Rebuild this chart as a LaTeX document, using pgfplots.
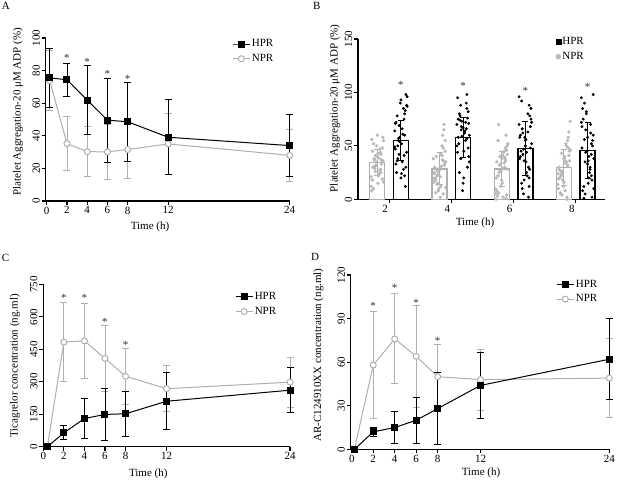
\documentclass[border=0pt]{standalone}
\usepackage{fontspec}
\setmainfont{Liberation Serif}
\usepackage{pgfplots}
\usepackage{pgfplotstable}
\pgfplotsset{compat=1.18}
\definecolor{npr}{RGB}{175,175,175}
\definecolor{nprpt}{RGB}{185,185,185}
\newcommand\fs{\fontsize{11}{13}\selectfont}

\pgfplotsset{gp/.style={
  scale only axis, axis lines=left, axis line style={line width=1.3pt,-},
  tick align=outside, major tick length=4pt, tick style={line width=1.1pt,black},
  tick label style={font=\fs}, label style={font=\fs},
  /pgf/number format/assume math mode=true,
  yticklabel style={rotate=90, anchor=south, inner sep=1.5pt},
  xticklabel style={inner sep=1.5pt},
  clip=false,
  legend style={draw=none, fill=none, font=\fs, row sep=3pt, inner sep=0pt, nodes={inner sep=1.5pt}},
  legend cell align=left,
},
ebH/.style={error bars/y dir=both, error bars/y explicit, error bars/error bar style={line width=0.9pt, draw=black, solid}, error bars/error mark options={rotate=90, draw=black, line width=0.9pt, mark size=3.5pt}},
ebN/.style={error bars/y dir=both, error bars/y explicit, error bars/error bar style={line width=0.9pt, draw=npr, solid}, error bars/error mark options={rotate=90, draw=npr, line width=0.9pt, mark size=3.5pt}},
hpr/.style={black, line width=1pt, mark=square*, mark size=3pt, mark options={solid}},
nprs/.style={npr, line width=1pt, mark=*, mark size=3pt, mark options={solid, fill=white, draw=npr}},
star/.style={draw=none, mark=none, forget plot, nodes near coords={*}, every node near coord/.append style={anchor=center, font=\fs, inner sep=0pt, yshift=-1.5pt, text=black!80}},
}

% Panel A
\pgfplotstableread{
t m e
0.3 75.5 18
2 74.4 10
4 61.9 21.3
6 49.6 25.7
8 48.6 24.4
12 39.1 23
24 34 19
}\aH
\pgfplotstableread{
t m e
0.3 73.8 18.5
2 35.2 16.6
4 30.3 15.5
6 30.1 17
8 31.6 18
12 35 18.5
24 28 16
}\aN
% Panel C
\pgfplotstableread{
t m e
0.4 0 0
2 64 32
4 130 93
6 149 118
8 152 104
12 210 132
24 261 104
}\cH
\pgfplotstableread{
t m e
0.4 0 0
2 483 183
4 489 172
6 408 152
8 325 131
12 268 105
24 298 115
}\cN
% Panel D
\pgfplotstableread{
t m e
0.25 0 0
2 12 3
4 15 11
6 20 16
8 28 25
12 44 23
24 62 28
}\dH
\pgfplotstableread{
t m e
0.25 0 0
2 58 37
4 76 31
6 64 35
8 50 22
12 48 21
24 49 27
}\dN
% Panel B: individual values (jitter j within bar)
\pgfplotstableread{
j n2 h2 n4 h4 n6 h6 n8 h8
-0.08 45 72 30 75 35 60 30 85
0.02 22 35 12 62 2 25 8 20
0.09 58 88 45 40 42 85 45 60
-0.04 31 55 22 88 25 42 22 5
0.06 37 22 5 57 48 12 55 42
-0.1 12 64 38 70 10 70 14 95
0.0 40 93 27 15 38 55 38 33
0.05 28 41 60 66 30 30 2 70
-0.06 52 78 18 80 55 92 27 12
0.08 19 30 33 48 4 48 63 55
-0.02 35 58 8 73 33 18 18 80
0.04 47 85 41 55 45 63 35 28
-0.09 8 47 25 95 20 38 10 48
0.07 33 12 70 30 1 78 48 2
-0.03 26 69 15 68 40 5 25 65
0.1 55 96 35 60 28 52 73 38
-0.05 38 38 28 78 70 66 5 90
0.01 15 52 2 45 15 35 40 15
0.06 42 80 48 85 36 88 32 52
-0.07 30 25 20 52 3 45 20 75
0.03 24 61 31 64 44 22 52 25
-0.01 50 90 10 8 26 58 12 45
0.09 36 44 55 71 50 75 36 98
-0.08 18 33 24 58 8 40 28 8
0.05 44 75 37 90 39 2 0 62
-0.04 29 57 14 38 32 62 43 35
0.0 60 20 29 67 18 50 16 58
0.07 34 83 65 76 60 28 58 18
-0.1 21 49 19 50 5 96 24 72
0.02 39 66 42 62 41 44 34 40
-0.06 10 36 6 25 22 15 6 1
0.08 48 98 32 82 46 68 41 50
-0.02 32 54 23 59 12 36 26 82
0.04 27 28 50 72 34 80 50 30
-0.09 56 71 16 44 0 58 19 68
0.06 25 60 36 98 37 20 31 22
-0.03 41 42 26 65 27 47 4 44
0.1 16 87 11 35 52 72 46 10
-0.05 37 50 40 74 6 10 23 56
0.01 43 24 21 20 29 56 37 36
}\bpts

\begin{document}
\begin{tikzpicture}[x=1pt,y=1pt]
\useasboundingbox (0,0) rectangle (617,481);
\node[anchor=north west, inner sep=0pt, font=\fs] at (1.7,478.5) {A};
\node[anchor=north west, inner sep=0pt, font=\fs] at (313,478.5) {B};
\node[anchor=north west, inner sep=0pt, font=\fs] at (1.7,226.5) {C};
\node[anchor=north west, inner sep=0pt, font=\fs] at (311,228) {D};

% ---------- A ----------
\begin{axis}[gp, at={(45.7pt,280pt)}, anchor=south west, width=244pt, height=163pt,
  xmin=-0.1, xmax=24, ymin=0, ymax=100,
  xtick={0,2,4,6,8,12,24}, ytick={0,20,40,60,80,100},
  xlabel={Time (h)}, ylabel={Platelet Aggregation-20 μM ADP (\%)},
  xlabel style={at={(axis description cs:0.4275,0)}, anchor=center, yshift=-26pt},
  ylabel style={at={(axis description cs:-0.1135,0.546)}, anchor=center},
  legend style={at={(0.764,0.918)}, anchor=west}]
\addplot[nprs, forget plot, ebN] table[x=t, y=m, y error=e] {\aN};
\addplot[hpr, forget plot, ebH] table[x=t, y=m, y error=e] {\aH};
\addplot[star] coordinates {(2,88.7) (4,86.3) (6,78.9) (8,75.8)};
\addlegendimage{hpr}\addlegendentry{HPR}
\addlegendimage{nprs}\addlegendentry{NPR}
\end{axis}

% ---------- B ----------
\begin{axis}[gp, at={(358pt,281.7pt)}, anchor=south west, width=247pt, height=160.3pt,
  xmin=0.5, xmax=4.47, ymin=0, ymax=150,
  xtick={1,2,3,4}, xticklabels={2,4,6,8}, xticklabel style={xshift=-4pt},
  ytick={0,50,100,150},
  xlabel={Time (h)}, ylabel={Platelet Aggregation-20 μM ADP (\%)},
  xlabel style={at={(axis description cs:0.474,0)}, anchor=center, yshift=-24pt},
  ylabel style={at={(axis description cs:-0.093,0.568)}, anchor=center},
  legend style={at={(0.80,0.936)}, anchor=west}]
\addplot[ybar, bar width=0.24, bar shift=0pt, draw=npr, line width=1.2pt, fill=white, forget plot]
  coordinates {(0.81,34.3) (1.81,28.4) (2.81,28.4) (3.81,29.6)};
\addplot[ybar, bar width=0.24, bar shift=0pt, draw=black, line width=1.5pt, fill=white, forget plot]
  coordinates {(1.19,55) (2.19,57.7) (3.19,47.4) (4.19,45.5)};
\addplot[only marks, mark=*, mark size=1.5pt, nprpt, forget plot] table[x expr=\thisrow{j}+0.81, y=n2] {\bpts};
\addplot[only marks, mark=*, mark size=1.5pt, nprpt, forget plot] table[x expr=\thisrow{j}+1.81, y=n4] {\bpts};
\addplot[only marks, mark=*, mark size=1.5pt, nprpt, forget plot] table[x expr=\thisrow{j}+2.81, y=n6] {\bpts};
\addplot[only marks, mark=*, mark size=1.5pt, nprpt, forget plot] table[x expr=\thisrow{j}+3.81, y=n8] {\bpts};
\addplot[only marks, mark=*, mark size=1.25pt, black, forget plot] table[x expr=\thisrow{j}+1.19, y=h2] {\bpts};
\addplot[only marks, mark=*, mark size=1.25pt, black, forget plot] table[x expr=\thisrow{j}+2.19, y=h4] {\bpts};
\addplot[only marks, mark=*, mark size=1.25pt, black, forget plot] table[x expr=\thisrow{j}+3.19, y=h6] {\bpts};
\addplot[only marks, mark=*, mark size=1.25pt, black, forget plot] table[x expr=\thisrow{j}+4.19, y=h8] {\bpts};
\addplot[draw=none, mark=none, forget plot, error bars/y dir=both, error bars/y explicit,
  error bars/error bar style={line width=1pt, draw=npr}, error bars/error mark options={rotate=90, draw=npr, line width=1pt, mark size=3pt}]
  coordinates {(0.81,34.3) +- (0,12) (1.81,28.4) +- (0,15) (2.81,28.4) +- (0,16) (3.81,29.6) +- (0,17)};
\addplot[draw=none, mark=none, forget plot, error bars/y dir=both, error bars/y explicit,
  error bars/error bar style={line width=1pt, draw=black}, error bars/error mark options={rotate=90, draw=black, line width=1pt, mark size=3pt}]
  coordinates {(1.19,55) +- (0,19) (2.19,57.7) +- (0,19) (3.19,47.4) +- (0,25) (4.19,45.5) +- (0,26)};
\addplot[star] coordinates {(1.19,108.5) (2.19,107.9) (3.19,103.2) (4.19,106.3)};
\addlegendimage{only marks, mark=square*, mark size=2.5pt, black}\addlegendentry{HPR}
\addlegendimage{only marks, mark=*, mark size=2.5pt, nprpt}\addlegendentry{NPR}
\end{axis}

% ---------- C ----------
\begin{axis}[gp, at={(43.3pt,34.3pt)}, anchor=south west, width=246.7pt, height=162.4pt,
  xmin=0, xmax=24, ymin=0, ymax=750,
  xtick={0,2,4,6,8,12,24}, ytick={0,150,300,450,600,750},
  xlabel={Time (h)}, ylabel={Ticagrelor concentration (ng.ml)},
  xlabel style={at={(axis description cs:0.4256,0)}, anchor=center, yshift=-27.3pt},
  ylabel style={at={(axis description cs:-0.1147,0.498)}, anchor=center},
  legend style={at={(0.777,0.877)}, anchor=west}]
\addplot[nprs, forget plot, ebN] table[x=t, y=m, y error=e] {\cN};
\addplot[hpr, forget plot, ebH] table[x=t, y=m, y error=e] {\cH};
\addplot[star] coordinates {(2,693) (4,693) (6,581) (8,478)};
\addlegendimage{hpr}\addlegendentry{HPR}
\addlegendimage{nprs}\addlegendentry{NPR}
\end{axis}

% ---------- D ----------
\begin{axis}[gp, at={(350.7pt,31.7pt)}, anchor=south west, width=258.6pt, height=174.3pt,
  xmin=-0.1, xmax=24, ymin=0, ymax=120,
  xtick={0,2,4,6,8,12,24}, ytick={0,30,60,90,120},
  xlabel={Time (h)}, ylabel={AR-C124910XX concentration (ng.ml)},
  xlabel style={at={(axis description cs:0.504,0)}, anchor=center, yshift=-24pt},
  ylabel style={at={(axis description cs:-0.125,0.541)}, anchor=center},
  legend style={at={(0.794,0.904)}, anchor=west}]
\addplot[nprs, forget plot, ebN] table[x=t, y=m, y error=e] {\dN};
\addplot[hpr, forget plot, ebH] table[x=t, y=m, y error=e] {\dH};
\addplot[star] coordinates {(2,100) (4,112) (6,102) (8,76)};
\addlegendimage{hpr}\addlegendentry{HPR}
\addlegendimage{nprs}\addlegendentry{NPR}
\end{axis}
\end{tikzpicture}
\end{document}
